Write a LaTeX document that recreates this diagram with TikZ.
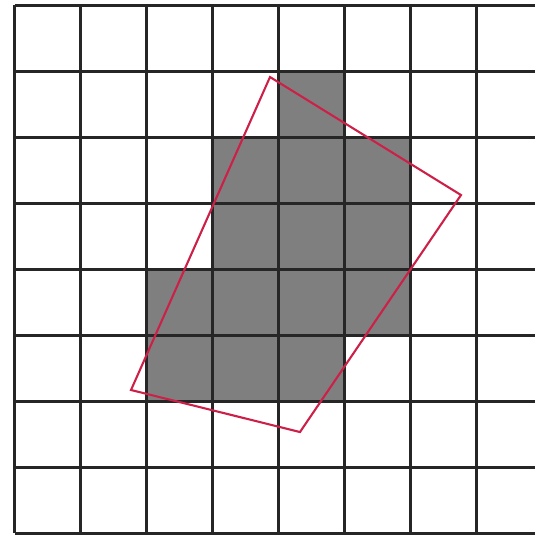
\documentclass[tikz,border=0pt]{standalone}
\usepackage{xcolor}
\definecolor{cellgray}{RGB}{127,127,127}
\definecolor{quadred}{RGB}{204,32,72}
\usepackage{tikz}
\usetikzlibrary{calc}

\begin{document}
\begin{tikzpicture}[
  gridline/.style={line width=1.3pt, black!85},
  cellfill/.style={fill=cellgray},
  quadline/.style={line width=0.9pt, quadred, line join=miter}
]
  \useasboundingbox (-0.227,-0.03) rectangle (7.879,8.076);
  \clip (-0.227,-0.03) rectangle (7.879,8.076);

  %--- shaded cells (column, row from top) ---
  \foreach \c/\r in {4/1, 3/2,4/2,5/2, 3/3,4/3,5/3, 2/4,3/4,4/4,5/4, 2/5,3/5,4/5}
    \fill[cellfill] (\c,8-\r) rectangle ++(1,-1);

  %--- grid ---
  \draw[gridline] (0,0) grid (9,8);

  %--- tilted quadrilateral ---
  \coordinate (qtop) at (3.864,6.909);
  \coordinate (qright) at (6.758,5.121);
  \coordinate (qbottom) at (4.318,1.530);
  \coordinate (qleft) at (1.758,2.167);
  \draw[quadline] (qtop) -- (qright) -- (qbottom) -- (qleft) -- cycle;
\end{tikzpicture}
\end{document}
